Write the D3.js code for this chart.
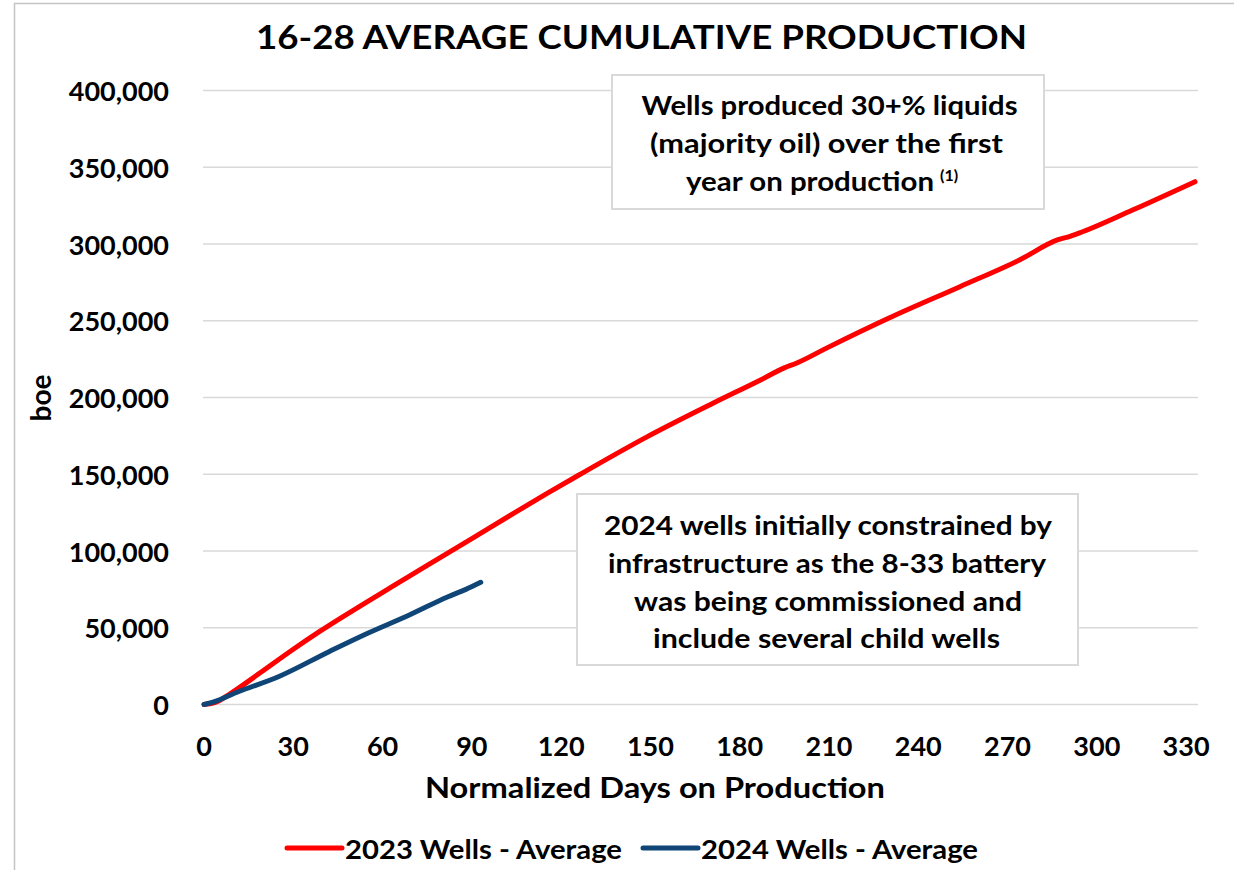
<!DOCTYPE html>
<html>
<head>
<meta charset="utf-8">
<script src="https://cdn.jsdelivr.net/npm/d3@7"></script>
<style>
  body { margin: 0; background: #fff; }
  text { font-family: Lato, "Open Sans", sans-serif; font-weight: bold; fill: #000; }
</style>
</head>
<body>
<div id="chart"></div>
<script>
// data
let days2023 = [0, 4, 8, 19, 30, 39, 53, 64, 75, 90, 104, 115, 126, 149, 171, 187, 195, 199, 209, 230, 254, 274, 287, 291, 295, 312, 333];
let boe2023 = [0, 1500, 6000, 20800, 36000, 47800, 64800, 77700, 90600, 108000, 124500, 137200, 149500, 174500, 196200, 211400, 219300, 222300, 232000, 251600, 272200, 289600, 302800, 305000, 307800, 322100, 340600];
let days2024 = [0, 3, 11.5, 25, 42, 55, 69, 82, 88, 93];
let boe2024 = [0, 1500, 8300, 18100, 34400, 46400, 58300, 70200, 75000, 79600];
let xTicks = [0, 30, 60, 90, 120, 150, 180, 210, 240, 270, 300, 330];
let yTicks = [0, 50000, 100000, 150000, 200000, 250000, 300000, 350000, 400000];
let seriesNames = ["2023 Wells - Average", "2024 Wells - Average"];
let seriesColors = ["#ff0000", "#0f4677"];

let w = 1234;
let h = 870;

let svg = d3.select("#chart")
              .append("svg")
                .attr("width", w)
                .attr("height", h);

// outer chart border (only left/top visible in the picture)
svg.append("rect")
      .attr("x", 14.5)
      .attr("y", 3.5)
      .attr("width", 1300)
      .attr("height", 900)
      .attr("fill", "#fff")
      .attr("stroke", "#c4c4c4")
      .attr("stroke-width", 1.5);

let x = d3.scaleLinear().domain([0, 334]).range([204, 1198]);
let y = d3.scaleLinear().domain([0, 400000]).range([704.5, 90.5]);

// helper: text squeezed to a measured width
function label(txt, cx, cy, size, len, anchor) {
  let t = svg.append("text")
      .attr("x", cx)
      .attr("y", cy)
      .attr("font-size", size)
      .attr("text-anchor", anchor || "middle")
      .attr("dominant-baseline", "central")
      .text(txt);
  if (len) {
    t.attr("textLength", len).attr("lengthAdjust", "spacingAndGlyphs");
  }
  return t;
}

// gridlines
svg.selectAll("line.grid").data(yTicks).enter()
      .append("line")
        .attr("class", "grid")
        .attr("x1", 203)
        .attr("x2", 1198)
        .attr("y1", d => y(d))
        .attr("y2", d => y(d))
        .attr("stroke", "#d9d9d9")
        .attr("stroke-width", 1.5);

// y tick labels
svg.selectAll("text.ytick").data(yTicks).enter()
      .append("text")
        .attr("class", "ytick")
        .attr("x", 169)
        .attr("y", d => y(d))
        .attr("text-anchor", "end")
        .attr("dominant-baseline", "central")
        .attr("font-size", 27)
        .text(d => d3.format(",")(d));

// x tick labels
svg.selectAll("text.xtick").data(xTicks).enter()
      .append("text")
        .attr("class", "xtick")
        .attr("x", d => x(d))
        .attr("y", 745)
        .attr("text-anchor", "middle")
        .attr("dominant-baseline", "central")
        .attr("font-size", 27)
        .text(d => d);

// titles
label("16-28 AVERAGE CUMULATIVE PRODUCTION", 641.5, 36, 32, 771);
label("Normalized Days on Production", 655, 787, 28, 460);
label("boe", 0, 0, 28, null)
    .attr("transform", "translate(40,398) rotate(-90)");

// lines
let line = d3.line()
              .x(d => x(d[0]))
              .y(d => y(d[1]))
              .curve(d3.curveMonotoneX);

let data2023 = days2023.map((d, i) => [d, boe2023[i]]);
let data2024 = days2024.map((d, i) => [d, boe2024[i]]);

[data2023, data2024].forEach(function(data, i) {
  svg.append("path")
      .attr("d", line(data))
      .attr("fill", "none")
      .attr("stroke", seriesColors[i])
      .attr("stroke-width", 5)
      .attr("stroke-linecap", "round")
      .attr("stroke-linejoin", "round");
});

// annotation boxes
function box(x0, y0, x1, y1) {
  svg.append("rect")
      .attr("x", x0)
      .attr("y", y0)
      .attr("width", x1 - x0)
      .attr("height", y1 - y0)
      .attr("fill", "#fff")
      .attr("stroke", "#d9d9d9")
      .attr("stroke-width", 2);
}

box(612, 75, 1044, 209);
label("Wells produced 30+% liquids", 829.5, 105, 26, 376);
label("(majority oil) over the first", 826.5, 143, 26, 353);
label("year on production", 686, 181, 26, 248, "start");
svg.append("text")
    .attr("x", 940)
    .attr("y", 174)
    .attr("font-size", 16)
    .attr("dominant-baseline", "central")
    .text("(1)");

box(577, 494, 1078, 665);
label("2024 wells initially constrained by", 828, 525, 26, 448);
label("infrastructure as the 8-33 battery", 827, 563, 26, 438);
label("was being commissioned and", 828, 601, 26, 388);
label("include several child wells", 826.5, 638, 26, 347);

// legend
let legX = [287, 643];
let legTextLen = [277, 277];
seriesNames.forEach(function(name, i) {
  svg.append("line")
      .attr("x1", legX[i])
      .attr("x2", legX[i] + 55)
      .attr("y1", 848)
      .attr("y2", 848)
      .attr("stroke", seriesColors[i])
      .attr("stroke-width", 5)
      .attr("stroke-linecap", "round");
  label(name, legX[i] + 58, 848, 27, legTextLen[i], "start");
});
</script>
</body>
</html>
